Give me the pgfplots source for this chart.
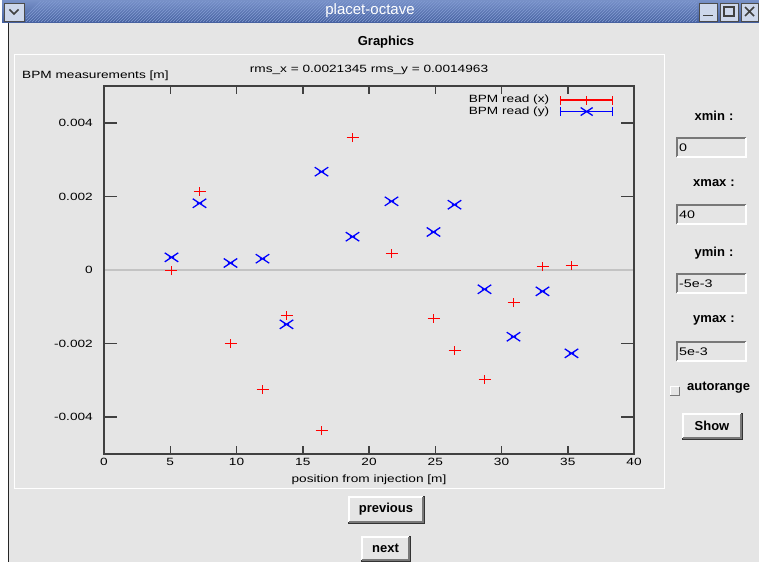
\documentclass[border=0pt]{standalone}
\usepackage{graphicx}
\usepackage{pgfplots}
\pgfplotsset{compat=1.18}
\usepackage{pgfplotstable}
\usepackage{fontspec}
\setmainfont{Liberation Sans}
\definecolor{wingray}{rgb}{0.898,0.898,0.898}
\definecolor{axgray}{rgb}{0.25,0.25,0.25}
\definecolor{zerogray}{rgb}{0.765,0.765,0.765}
\definecolor{bpmred}{rgb}{1,0,0}
\definecolor{bpmblue}{rgb}{0,0,1}
\definecolor{tbtop}{RGB}{120,145,200}
\definecolor{tbbot}{RGB}{68,95,158}
\definecolor{tbhatch}{RGB}{130,155,210}
\definecolor{btnface}{RGB}{205,215,235}
\definecolor{shadow}{RGB}{120,120,120}

\pgfdeclareplotmark{wideplus}{%
  \pgfsetstrokecolor{bpmred}%
  \pgfpathmoveto{\pgfqpoint{-\pgfplotmarksize}{0pt}}%
  \pgfpathlineto{\pgfqpoint{\pgfplotmarksize}{0pt}}%
  \pgfpathmoveto{\pgfqpoint{0pt}{-0.75\pgfplotmarksize}}%
  \pgfpathlineto{\pgfqpoint{0pt}{0.75\pgfplotmarksize}}%
  \pgfusepath{stroke}}
\pgfdeclareplotmark{widex}{%
  \pgfsetstrokecolor{bpmblue}%
  \pgfpathmoveto{\pgfqpoint{-1.5\pgfplotmarksize}{-\pgfplotmarksize}}%
  \pgfpathlineto{\pgfqpoint{1.5\pgfplotmarksize}{\pgfplotmarksize}}%
  \pgfpathmoveto{\pgfqpoint{-1.5\pgfplotmarksize}{\pgfplotmarksize}}%
  \pgfpathlineto{\pgfqpoint{1.5\pgfplotmarksize}{-\pgfplotmarksize}}%
  \pgfpathmoveto{\pgfqpoint{-0.6\pgfplotmarksize}{0pt}}%
  \pgfpathlineto{\pgfqpoint{0.6\pgfplotmarksize}{0pt}}%
  \pgfusepath{stroke}}

\pgfplotstableread{
s       bx          by
5.094   -0.0000136  0.000345
7.208   0.0021332   0.001813
9.547   -0.0019973  0.000190
11.962  -0.0032473  0.000307
13.774  -0.0012364  -0.001476
16.415  -0.0043614  0.002671
18.755  0.0036005   0.000905
21.698  0.0004484   0.001867
24.868  -0.0013179  0.001033
26.453  -0.0021875  0.001774
28.717  -0.0029755  -0.000524
30.906  -0.0008832  -0.001813
33.094  0.0000951   -0.000579
35.283  0.0001223   -0.002264
}\bpmdata

\newcommand{\sx}[1]{\scalebox{1.3}[1]{#1}}
\newcommand{\pf}{\fontsize{10.5}{12}\selectfont}
\newcommand{\gf}{\fontsize{13}{15}\selectfont\bfseries}

\pgfplotsset{
  bpmaxis/.style={
    at={(104pt,108pt)}, anchor=south west,
    scale only axis, width=530pt, height=368pt,
    xmin=0, xmax=40, ymin=-0.005, ymax=0.005,
    tick align=inside,
    axis line style={axgray, line width=1.5pt},
    tick style={axgray, line width=1.5pt},
    scaled y ticks=false, scaled x ticks=false,
    tick label style={font=\pf},
  }
}

\begin{document}
\begin{tikzpicture}
\useasboundingbox (0,0) rectangle (759pt,562pt);
\fill[white] (0,0) rectangle (759pt,562pt);
\begin{scope}[x=1pt,y=-1pt,yshift=562pt]
  % window body
  \fill[wingray] (8,22) rectangle (759,562);
  \draw[black!85, line width=1.2pt] (8.6,22) -- (8.6,562);
  % title bar
  \shade[top color=tbtop, bottom color=tbbot] (2,0) rectangle (759,23);
  \begin{scope}
    \clip (26,1) rectangle (697,22);
    \foreach \k in {0,3,...,700}{
      \draw[tbhatch, line width=0.6pt] (20+\k,22) -- (41+\k,1);
    }
  \end{scope}
  \node[white, font=\fontsize{15}{17}\selectfont] at (370,11) {placet-octave};
  % title bar buttons
  \draw[fill=btnface, draw=black!70, line width=0.8pt] (4,3) rectangle (24,21);
  \draw[black!75, line width=1.5pt] (9.5,9.5) -- (14,14) -- (18.5,9.5);
  \foreach \a/\b in {699/717,720/738,741/758}{
    \draw[fill=btnface, draw=black!70, line width=0.8pt] (\a,3) rectangle (\b,21);
  }
  \draw[black!75, line width=1.8pt] (703,15.5) -- (713,15.5);
  \draw[black!75, line width=1.2pt] (724,7) rectangle (734,16);
  \draw[black!75, line width=1.5pt] (745,7) -- (754,16) (745,16) -- (754,7);
  % Graphics label
  \node[font=\gf] at (386,42) {Graphics};
  % plot frame
  \draw[white, line width=1.2pt] (14.5,54.5) rectangle (664.5,488.5);
  % right panel
  \node[font=\gf] at (714,116) {xmin\hspace{4pt}:};
  \node[font=\gf] at (714,183) {xmax\hspace{4pt}:};
  \node[font=\gf] at (714,253) {ymin\hspace{4pt}:};
  \node[font=\gf] at (714,320) {ymax\hspace{4pt}:};
  \foreach \yt/\txt in {138/0,205/40,274/-5e-3,342/5e-3}{
    \fill[wingray] (677,\yt) rectangle (746,\yt+19);
    \draw[shadow, line width=1.4pt] (677,\yt+19) -- (677,\yt) -- (746,\yt);
    \draw[white, line width=1.2pt] (677,\yt+19) -- (746,\yt+19) -- (746,\yt);
    \node[anchor=west, inner sep=0pt, font=\fontsize{11}{13}\selectfont] at (679,\yt+10) {\sx{\txt}};
  }
  % autorange checkbox
  \fill[wingray] (670,387) rectangle (679,396);
  \draw[white, line width=1pt] (670,396) -- (670,387) -- (679,387);
  \draw[shadow, line width=1pt] (670,396) -- (679,396) -- (679,387);
  \node[anchor=west, inner sep=0pt, font=\gf] at (687,388) {autorange};
  % buttons
  \foreach \xa/\ya/\xb/\yb/\txt in {683/414/741/438/Show, 349/497/423/522/previous, 362/537/409/560/next}{
    \draw[black!80, line width=0.8pt] (\xa-1,\ya-1) rectangle (\xb+1,\yb+1);
    \draw[white, line width=1.3pt] (\xa,\yb) -- (\xa,\ya) -- (\xb,\ya);
    \draw[shadow, line width=1.3pt] (\xa,\yb) -- (\xb,\yb) -- (\xb,\ya);
    \node[font=\gf] at ({(\xa+\xb)/2},{(\ya+\yb)/2}) {\txt};
  }
\end{scope}

% axis 1: y ticks (long)
\begin{axis}[bpmaxis,
  xtick=\empty,
  ytick={-0.004,-0.002,0,0.002,0.004},
  yticklabels={\sx{-0.004},\sx{-0.002},\sx{0},\sx{0.002},\sx{0.004}},
  major tick length=13pt,
  yticklabel style={anchor=east, inner sep=0pt, xshift=-11pt},
]
\addplot[zerogray, line width=1.5pt, forget plot] coordinates {(0,0) (40,0)};
\end{axis}

% axis 2: x ticks (short), data, labels, legend
\begin{axis}[bpmaxis,
  ytick=\empty,
  xtick={0,5,10,15,20,25,30,35,40},
  xticklabels={\sx{0},\sx{5},\sx{10},\sx{15},\sx{20},\sx{25},\sx{30},\sx{35},\sx{40}},
  major tick length=8pt,
  xticklabel style={anchor=north, inner sep=0pt, yshift=-4pt},
  every axis x label/.style={at={(axis description cs:0.5,-0.0707)}, anchor=center, inner sep=0pt, font=\pf},
  every axis y label/.style={at={(axis description cs:-0.1547,1.0272)}, anchor=west, inner sep=0pt, font=\pf},
  every axis title/.style={at={(axis description cs:0.5,1.0448)}, anchor=center, inner sep=0pt, font=\pf},
  xlabel={\sx{position from injection [m]}},
  ylabel={\sx{BPM measurements [m]}},
  title={\sx{rms\_x = 0.0021345 rms\_y = 0.0014963}},
  legend plot pos=right,
  legend cell align=right,
  legend style={at={(axis description cs:0.962,0.978)}, anchor=north east,
    draw=none, fill=none, inner sep=0pt, row sep=0pt, font=\pf,
    nodes={inner sep=0.5pt, text height=8pt, text depth=2.5pt}},
]
\addplot[only marks, mark=wideplus, mark size=6pt, line width=1.2pt, draw=bpmred, forget plot]
  table[x=s, y=bx] {\bpmdata};
\addplot[only marks, mark=widex, mark size=4.5pt, line width=1.3pt, draw=bpmblue, forget plot]
  table[x=s, y=by] {\bpmdata};
\addlegendimage{legend image code/.code={
    \path[draw=none, fill=none] (0pt,-5pt) rectangle (64pt,5pt);
    \draw[draw=bpmred, line width=1.8pt] (11pt,0pt) -- (63pt,0pt);
    \draw[draw=bpmred, line width=1.5pt] (11pt,-4.5pt) -- (11pt,4.5pt);
    \draw[draw=bpmred, line width=1.5pt] (63pt,-4.5pt) -- (63pt,4.5pt);
    \draw[draw=bpmred, line width=1.5pt] (37pt,-4.5pt) -- (37pt,4.5pt);
  }}
\addlegendentry{\sx{BPM read (x)}}
\addlegendimage{legend image code/.code={
    \path[draw=none, fill=none] (0pt,-5pt) rectangle (64pt,5pt);
    \draw[draw=bpmblue, line width=1.8pt] (11pt,0pt) -- (63pt,0pt);
    \draw[draw=bpmblue, line width=1.5pt] (11pt,-4.5pt) -- (11pt,4.5pt);
    \draw[draw=bpmblue, line width=1.5pt] (63pt,-4.5pt) -- (63pt,4.5pt);
    \draw[draw=bpmblue, line width=1.3pt] (31pt,-4pt) -- (43pt,4pt) (31pt,4pt) -- (43pt,-4pt);
  }}
\addlegendentry{\sx{BPM read (y)}}
\end{axis}
\end{tikzpicture}
\end{document}
